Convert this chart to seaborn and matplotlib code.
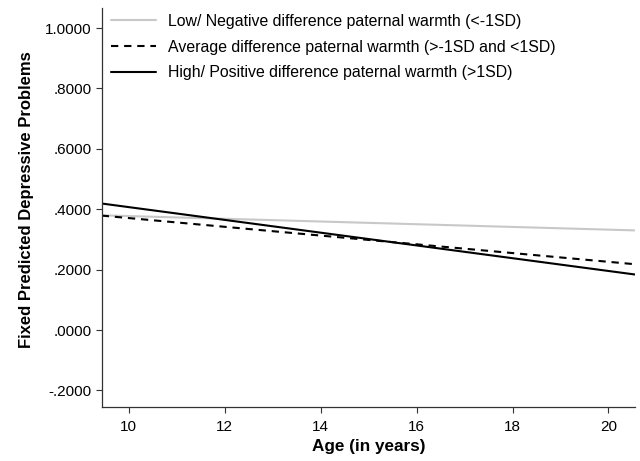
import pandas as pd
import matplotlib.pyplot as plt
import seaborn as sns

# predicted values at the two ends of the age range
age = [9.44, 20.55]
low_warmth = [0.380, 0.330]
avg_warmth = [0.379, 0.218]
high_warmth = [0.419, 0.184]

labels = ['Low/ Negative difference paternal warmth (<-1SD)',
          'Average difference paternal warmth (>-1SD and <1SD)',
          'High/ Positive difference paternal warmth (>1SD)']

df = pd.DataFrame({
    'age': age * 3,
    'pred': low_warmth + avg_warmth + high_warmth,
    'group': [labels[0]] * 2 + [labels[1]] * 2 + [labels[2]] * 2,
})

sns.set_style('ticks')
plt.rcParams['font.family'] = ['Liberation Sans', 'DejaVu Sans']
plt.rcParams['text.color'] = 'black'
plt.rcParams['axes.labelcolor'] = 'black'
plt.rcParams['xtick.labelcolor'] = 'black'
plt.rcParams['ytick.labelcolor'] = 'black'

fig = plt.figure(figsize=(6.4, 4.61), dpi=100)
ax = fig.add_axes([0.159, 0.117, 0.833, 0.866])

palette = {labels[0]: '#c8c8c8', labels[1]: 'black', labels[2]: 'black'}
dashes = {labels[0]: '', labels[1]: (3.5, 2.8), labels[2]: ''}
sns.lineplot(data=df, x='age', y='pred', hue='group', style='group',
             palette=palette, dashes=dashes, linewidth=1.5, ax=ax)

ax.set_xlim(9.44, 20.55)
ax.set_ylim(-0.255, 1.067)
ax.set_xticks([10, 12, 14, 16, 18, 20])
yt = [-0.2, 0.0, 0.2, 0.4, 0.6, 0.8, 1.0]
ax.set_yticks(yt)
ax.set_yticklabels(['-.2000', '.0000', '.2000', '.4000', '.6000', '.8000', '1.0000'])
ax.tick_params(labelsize=11, length=4, width=0.8, color='#333333')
ax.tick_params(axis='x', pad=5)
for s in ['top', 'right']:
    ax.spines[s].set_visible(False)
for s in ['left', 'bottom']:
    ax.spines[s].set_color('#333333')
    ax.spines[s].set_linewidth(0.9)

ax.set_xlabel('Age (in years)', fontsize=12.3, fontweight='bold')
ax.set_ylabel('Fixed Predicted Depressive Problems', fontsize=12, fontweight='bold')
ax.yaxis.set_label_coords(-0.128, 0.52)

ax.legend(loc='upper left', bbox_to_anchor=(0.017, 0.985), frameon=False,
          fontsize=11.4, handlelength=2.85, handletextpad=0.75, labelspacing=0.68,
          borderaxespad=0, borderpad=0, title=None)

plt.savefig('out.png', dpi=100)
